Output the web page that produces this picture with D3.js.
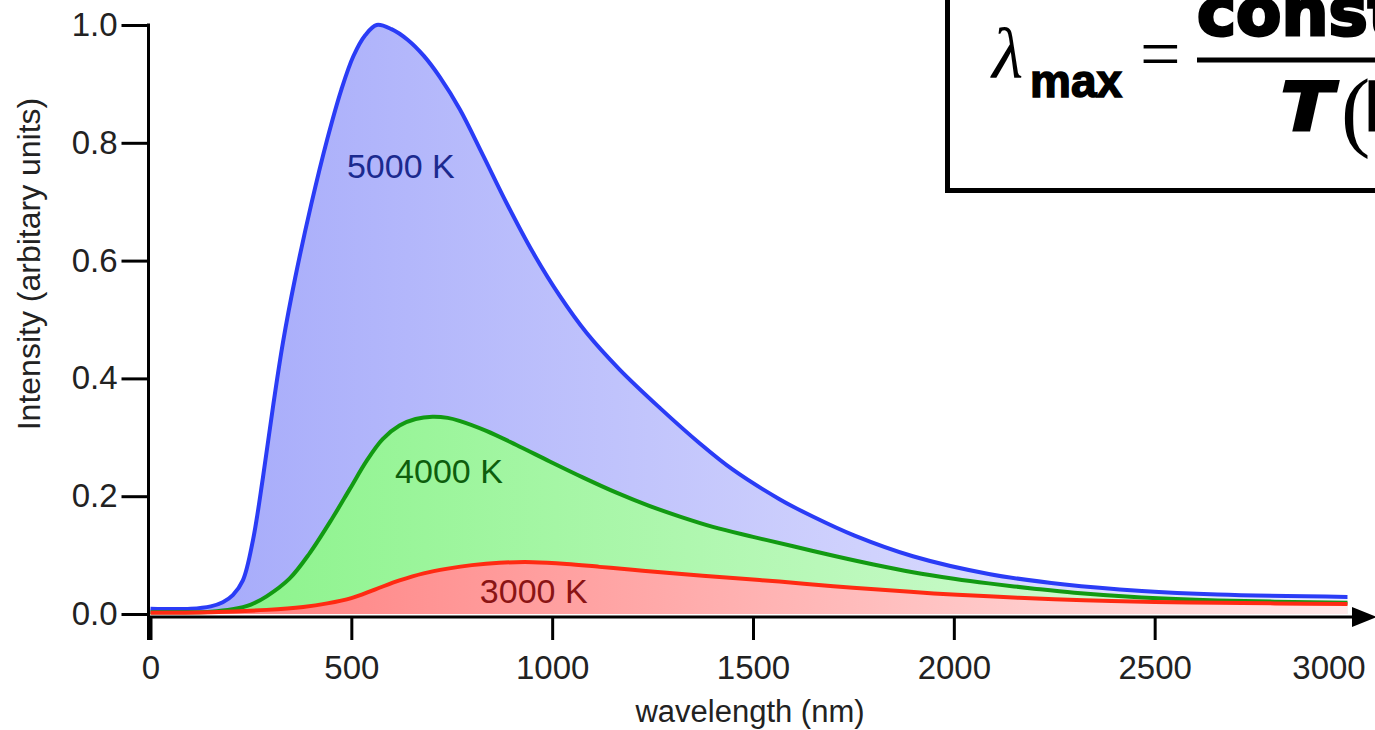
<!DOCTYPE html>
<html><head><meta charset="utf-8">
<script src="https://cdn.jsdelivr.net/npm/d3@7"></script>
<style>html,body{margin:0;padding:0;overflow:hidden;background:#fff}</style>
</head><body>
<svg id="chart" width="1375" height="730"></svg>
<script>
// ---- data (wavelength nm, intensity in arbitrary units) ----
const xTicks = [0, 500, 1000, 1500, 2000, 2500, 3000];
const yTicks = [0, 0.2, 0.4, 0.6, 0.8, 1.0];
const seriesNames = ["5000 K", "4000 K", "3000 K"];
const curve5000 = [[0,0.009],[100,0.009],[150,0.013],[180,0.02],[205,0.032],[230,0.057],[255,0.125],[280,0.232],[305,0.352],[330,0.462],[360,0.57],[400,0.695],[440,0.806],[475,0.89],[505,0.947],[535,0.983],[563,1.0],[600,0.993],[640,0.975],[680,0.948],[720,0.912],[770,0.857],[827,0.78],[887,0.697],[952,0.614],[1019,0.54],[1086,0.477],[1168,0.415],[1268,0.35],[1367,0.29],[1450,0.245],[1566,0.195],[1650,0.165],[1753,0.133],[1898,0.098],[2087,0.068],[2276,0.05],[2468,0.039],[2657,0.033],[2980,0.029]];
const curve4000 = [[0,0.003],[150,0.004],[204,0.008],[250,0.016],[289,0.03],[346,0.06],[396,0.103],[453,0.163],[496,0.212],[538,0.26],[578,0.297],[620,0.32],[660,0.331],[702,0.335],[740,0.333],[769,0.328],[836,0.311],[911,0.287],[994,0.259],[1076,0.232],[1160,0.206],[1240,0.184],[1320,0.165],[1400,0.148],[1500,0.131],[1600,0.115],[1706,0.098],[1800,0.084],[1898,0.071],[2000,0.06],[2087,0.052],[2200,0.043],[2300,0.036],[2468,0.028],[2657,0.023],[2980,0.019]];
const curve3000 = [[0,0.002],[150,0.003],[289,0.007],[380,0.012],[440,0.018],[500,0.027],[560,0.042],[620,0.057],[680,0.069],[740,0.077],[800,0.083],[869,0.087],[952,0.088],[1036,0.085],[1118,0.08],[1200,0.075],[1285,0.07],[1450,0.061],[1566,0.055],[1700,0.047],[1803,0.042],[1950,0.035],[2087,0.03],[2250,0.025],[2371,0.0225],[2500,0.0205],[2657,0.019],[2800,0.018],[2980,0.017]];

const FONT = "'Liberation Sans', Arial, Helvetica, sans-serif";
const svg = d3.select("#chart");
const x = d3.scaleLinear().domain([0, 3000]).range([150.5, 1355.5]);
const y = d3.scaleLinear().domain([0, 1]).range([614, 25]);

// gradients
const defs = svg.append("defs");
function grad(id, c0, c1) {
  const g = defs.append("linearGradient").attr("id", id)
    .attr("gradientUnits", "userSpaceOnUse")
    .attr("x1", x(0)).attr("x2", x(3000)).attr("y1", 0).attr("y2", 0);
  g.append("stop").attr("offset", "0%").attr("stop-color", c0);
  g.append("stop").attr("offset", "100%").attr("stop-color", c1);
}
grad("gBlue", "#a3a8fa", "#eeeeff");
grad("gGreen", "#86f386", "#e2fce2");
grad("gRed", "#ff7a7a", "#ffeaea");

const series = [
  {name: seriesNames[0], data: curve5000, fill: "url(#gBlue)", stroke: "#2a3cf6", text: "#1b2a8f", lx: 489, ly: 0.74},
  {name: seriesNames[1], data: curve4000, fill: "url(#gGreen)", stroke: "#129a12", text: "#0d5e0d", lx: 609, ly: 0.222},
  {name: seriesNames[2], data: curve3000, fill: "url(#gRed)", stroke: "#ff2a12", text: "#8a1414", lx: 820, ly: 0.019}
];

const crv = d3.curveCatmullRom.alpha(0.5);
const area = d3.area().x(d => x(d[0])).y0(y(0)).y1(d => y(d[1])).curve(crv);
const line = d3.line().x(d => x(d[0])).y(d => y(d[1])).curve(crv);

series.forEach(s => {
  svg.append("path").attr("d", area(s.data)).attr("fill", s.fill);
});
series.forEach(s => {
  svg.append("path").attr("d", line(s.data)).attr("fill", "none")
    .attr("stroke", s.stroke).attr("stroke-width", 4).attr("stroke-linejoin", "round");
});
series.forEach(s => {
  svg.append("text").attr("x", x(s.lx)).attr("y", y(s.ly)).text(s.name)
    .attr("font-family", FONT).attr("font-size", 34).attr("fill", s.text);
});

// axes
const axX = x(0) - 2;
const yAxis = svg.append("g").attr("transform", `translate(${axX},0)`)
  .call(d3.axisLeft(y).tickValues(yTicks).tickFormat(d3.format(".1f")).tickSize(27).tickPadding(4));
yAxis.select(".domain").remove();
yAxis.attr("font-size", 33).attr("font-family", FONT);
yAxis.selectAll("line").attr("stroke", "#000").attr("stroke-width", 3);
yAxis.selectAll("text").attr("fill", "#222");

const xAxis = svg.append("g").attr("transform", "translate(0,617)")
  .call(d3.axisBottom(x).tickValues(xTicks).tickFormat(d3.format("d")).tickSize(23).tickPadding(16));
xAxis.select(".domain").remove();
xAxis.attr("font-size", 33).attr("font-family", FONT);
xAxis.selectAll("line").attr("stroke", "#000").attr("stroke-width", 3);
xAxis.selectAll("text").attr("fill", "#222");
// last tick sits under the arrow: no tick mark, label pulled left to stay inside
const lastTick = xAxis.selectAll(".tick").filter(d => d === 3000);
lastTick.select("line").remove();
lastTick.select("text").attr("x", -27);

svg.append("line").attr("x1", axX).attr("x2", axX).attr("y1", y(1) - 1.5).attr("y2", 640)
  .attr("stroke", "#000").attr("stroke-width", 3);
svg.append("line").attr("x1", axX).attr("x2", 1360).attr("y1", 617).attr("y2", 617)
  .attr("stroke", "#000").attr("stroke-width", 3);
svg.append("path").attr("d", "M1352,607 L1377,617 L1352,627 Z").attr("fill", "#000");

svg.append("text").attr("x", 750).attr("y", 722).attr("text-anchor", "middle")
  .attr("font-family", FONT).attr("font-size", 31).attr("fill", "#222").text("wavelength (nm)");
svg.append("text").attr("transform", "translate(40,264) rotate(-90)").attr("text-anchor", "middle")
  .attr("font-family", FONT).attr("font-size", 32).attr("fill", "#222").text("Intensity (arbitary units)");

// formula box
const fb = svg.append("g");
fb.append("rect").attr("x", 947.5).attr("y", -20).attr("width", 500).attr("height", 210.5)
  .attr("fill", "#fff").attr("stroke", "#000").attr("stroke-width", 5);
fb.append("text").attr("x", 992).attr("y", 78).text("λ")
  .attr("font-family", "'Liberation Serif', 'Times New Roman', serif").attr("font-style", "italic").attr("font-size", 72);
fb.append("text").attr("x", 1030).attr("y", 97).text("max")
  .attr("font-family", FONT).attr("font-weight", "bold").attr("font-size", 46)
  .attr("stroke", "#000").attr("stroke-width", 1.5);
fb.append("text").attr("x", 1140).attr("y", 78).text("=")
  .attr("font-family", "'Liberation Serif', 'Times New Roman', serif").attr("font-size", 72);
fb.append("line").attr("x1", 1197).attr("x2", 1400).attr("y1", 60).attr("y2", 60)
  .attr("stroke", "#000").attr("stroke-width", 5);
fb.append("text").attr("x", 1197).attr("y", 35).text("constant")
  .attr("font-family", "'DejaVu Sans', sans-serif").attr("font-weight", "bold").attr("font-size", 66)
  .attr("stroke", "#000").attr("stroke-width", 3);
fb.append("text").attr("transform", "translate(1281,130) scale(1.15,1)").text("T")
  .attr("font-family", "'DejaVu Sans', sans-serif").attr("font-weight", "bold").attr("font-style", "italic").attr("font-size", 66)
  .attr("stroke", "#000").attr("stroke-width", 3);
fb.append("text").attr("x", 1341).attr("y", 140).text("(")
  .attr("font-family", "'Liberation Serif', serif").attr("font-size", 88);
fb.append("text").attr("x", 1364).attr("y", 130).text("K)")
  .attr("font-family", "'DejaVu Sans', sans-serif").attr("font-weight", "bold").attr("font-size", 66)
  .attr("stroke", "#000").attr("stroke-width", 3);
</script>
</body></html>
